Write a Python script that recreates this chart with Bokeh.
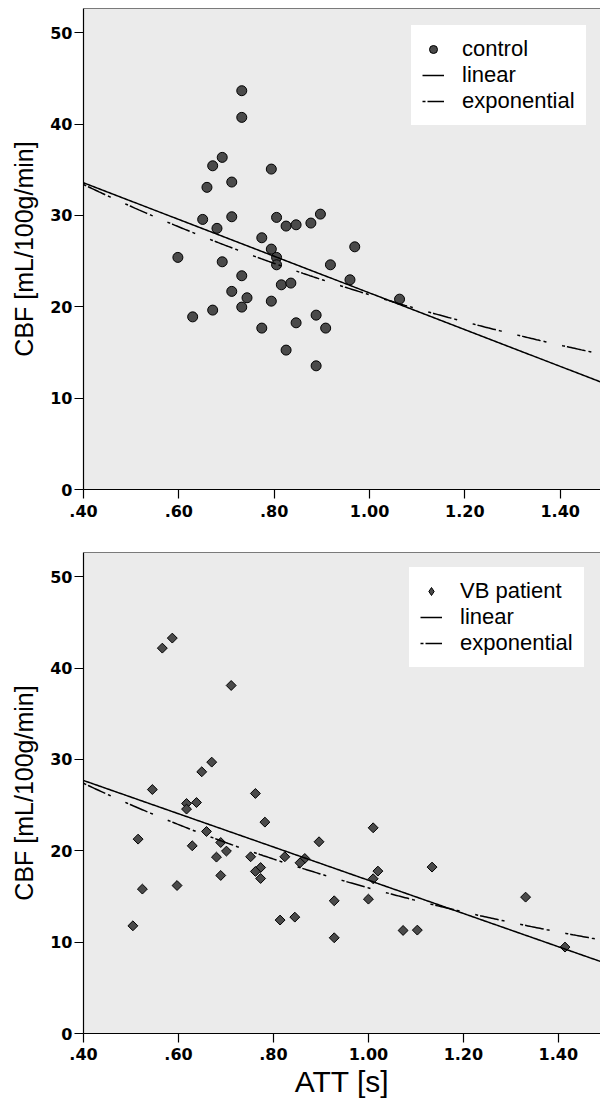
import numpy as np
from bokeh.plotting import figure
from bokeh.models import Range1d, FixedTicker, Legend, LegendItem, Span
from bokeh.layouts import column
from bokeh.embed import file_html
from bokeh.resources import INLINE

# ---------------- data ----------------
ctrl_att = [0.732, 0.732, 0.691, 0.671, 0.794, 0.659, 0.711, 0.650, 0.711, 0.680,
            0.805, 0.825, 0.846, 0.877, 0.897, 0.774, 0.794, 0.969, 0.598, 0.691,
            0.805, 0.805, 0.918, 0.732, 0.959, 0.815, 0.835, 0.711, 0.743, 1.063,
            0.794, 0.671, 0.732, 0.629, 0.888, 0.846, 0.774, 0.908, 0.825, 0.888]
ctrl_cbf = [43.66, 40.74, 36.36, 35.44, 35.08, 33.08, 33.66, 29.57, 29.86, 28.59,
            29.79, 28.84, 28.98, 29.17, 30.15, 27.56, 26.32, 26.57, 25.41, 24.93,
            25.41, 24.60, 24.60, 23.40, 22.96, 22.41, 22.60, 21.69, 20.99, 20.84,
            20.62, 19.64, 19.97, 18.90, 19.09, 18.25, 17.67, 17.67, 15.26, 13.54]

vb_att = [0.587, 0.566, 0.711, 0.670, 0.649, 0.545, 0.762, 0.617, 0.638, 0.617,
          0.782, 1.010, 0.659, 0.515, 0.896, 0.689, 0.629, 0.701, 0.680, 0.752,
          0.824, 0.866, 0.856, 0.773, 0.762, 1.020, 1.010, 0.689, 0.773, 0.597,
          0.524, 0.928, 1.000, 0.814, 0.845, 0.504, 0.928, 1.134, 1.073, 1.103,
          1.331, 1.414]
vb_cbf = [43.29, 42.19, 38.10, 29.71, 28.65, 26.71, 26.28, 25.18, 25.29, 24.57,
          23.14, 22.52, 22.12, 21.28, 20.99, 20.91, 20.55, 19.97, 19.31, 19.35,
          19.35, 19.16, 18.69, 18.17, 17.74, 17.78, 16.94, 17.30, 16.97, 16.20,
          15.81, 14.53, 14.71, 12.42, 12.74, 11.79, 10.48, 18.22, 11.28, 11.32,
          14.93, 9.46]

# fitted curves: linear (intercept, slope), exponential (a, b) in a*exp(b*x)
ctrl_linear = (41.62, -20.1)
ctrl_exponential = (45.04, -0.748)
vb_linear = (34.98, -18.2)
vb_exponential = (39.3, -0.902)

x_ticks = [0.4, 0.6, 0.8, 1.0, 1.2, 1.4]
x_tick_labels = [".40", ".60", ".80", "1.00", "1.20", "1.40"]
y_ticks = [0, 10, 20, 30, 40, 50]

PX_PER_X = 476.7
PX_PER_Y = 9.134
BG = "#ebebeb"
MARK = "#4a4a4a"
EXP_DASH = "3 2 19 3 3 16"


def make_panel(att, cbf, lin, expo, name, marker, msize, angle, legend_marker,
               height, border_left, border_top, border_bottom, x_title,
               legend_xy, xlabel_standoff, title_standoff):
    width = 600
    frame_w = width - border_left
    frame_h = height - border_top - border_bottom
    x_end = 0.4 + frame_w / PX_PER_X
    y_end = frame_h / PX_PER_Y
    p = figure(width=width, height=height, output_backend="svg",
               toolbar_location=None,
               x_range=Range1d(0.4, x_end), y_range=Range1d(0, y_end),
               min_border_left=border_left, min_border_right=0,
               min_border_top=border_top, min_border_bottom=border_bottom)
    p.background_fill_color = BG
    p.border_fill_color = "white"
    p.outline_line_color = None
    p.grid.visible = False

    for ax in (p.xaxis[0], p.yaxis[0]):
        ax.axis_line_color = "black"
        ax.axis_line_width = 1.2
        ax.major_tick_line_color = "black"
        ax.major_tick_line_width = 1.2
        ax.major_tick_out = 9
        ax.major_tick_in = 0
        ax.minor_tick_out = 0
        ax.minor_tick_in = 0
        ax.major_label_text_font = "DejaVu Sans"
        ax.major_label_text_font_style = "bold"
        ax.major_label_text_font_size = "16px"
        ax.major_label_text_color = "black"
        ax.major_label_standoff = 2
        ax.axis_label_text_font = "Liberation Sans"
        ax.axis_label_text_font_style = "normal"
        ax.axis_label_text_color = "black"

    p.xaxis.ticker = FixedTicker(ticks=x_ticks)
    p.xaxis.major_label_overrides = dict(zip(x_ticks, x_tick_labels))
    p.xaxis.major_label_standoff = xlabel_standoff
    p.yaxis.ticker = FixedTicker(ticks=y_ticks)
    p.yaxis.axis_label = "CBF [mL/100g/min]"
    p.yaxis.axis_label_text_font_size = "25px"
    p.yaxis.axis_label_standoff = 9
    if x_title:
        p.xaxis.axis_label = x_title
        p.xaxis.axis_label_text_font_size = "30px"
        p.xaxis.axis_label_standoff = title_standoff

    p.add_layout(Span(location=y_end, dimension="width", line_color="black",
                      line_width=1.2))

    sc = p.scatter(att, cbf, marker=marker, size=msize, angle=angle,
                   fill_color=MARK, line_color="black", line_width=1)
    if legend_marker != marker:
        # legend key only: a single missing point, so nothing is drawn in the plot
        key = p.scatter([np.nan], [np.nan], marker=legend_marker, size=msize,
                        fill_color=MARK, line_color="black", line_width=1)
    else:
        key = sc
    xs = np.linspace(0.4, x_end, 300)
    lr = p.line(xs, lin[0] + lin[1] * xs, line_color="black", line_width=1.5)
    er = p.line(xs, expo[0] * np.exp(expo[1] * xs), line_color="black",
                line_width=1.5, line_dash=EXP_DASH)

    legend = Legend(items=[LegendItem(label=name, renderers=[key]),
                           LegendItem(label="linear", renderers=[lr]),
                           LegendItem(label="exponential", renderers=[er])],
                    location=legend_xy)
    legend.label_text_font = "Liberation Sans"
    legend.label_text_font_size = "22px"
    legend.label_text_color = "black"
    legend.background_fill_color = "white"
    legend.background_fill_alpha = 1.0
    legend.border_line_color = "white"
    legend.border_line_width = 1
    legend.padding = 10
    legend.spacing = 0
    legend.margin = 0
    legend.glyph_width = 22
    legend.glyph_height = 20
    legend.label_standoff = 18
    p.add_layout(legend)
    return p


top = make_panel(ctrl_att, ctrl_cbf, ctrl_linear, ctrl_exponential, "control",
                 "circle", 10, 0, "circle", height=545, border_left=83,
                 border_top=8, border_bottom=56, x_title=None,
                 legend_xy=(328, 364), xlabel_standoff=6, title_standoff=0)
bottom = make_panel(vb_att, vb_cbf, vb_linear, vb_exponential, "VB patient",
                    "square", 7, np.pi / 4, "diamond", height=557,
                    border_left=81, border_top=7, border_bottom=69,
                    x_title="ATT [s]", legend_xy=(326, 366),
                    xlabel_standoff=5, title_standoff=2)

layout = column(top, bottom, spacing=0)
open("out.html", "w").write(file_html(layout, INLINE))
